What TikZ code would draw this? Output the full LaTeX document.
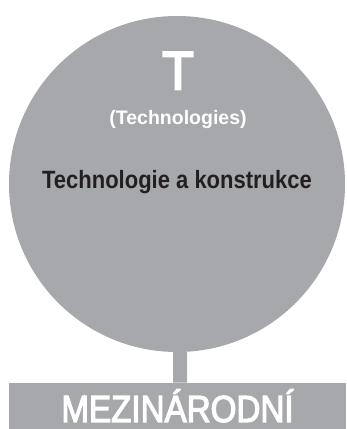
\documentclass[tikz,border=0pt]{standalone}
\usepackage{fontspec}
\setmainfont{Liberation Sans}
\newfontfamily\condfont[FakeStretch=0.88]{Liberation Sans}
\newfontfamily\medfont[FakeStretch=0.88,FakeBold=3]{Liberation Sans}
\newfontfamily\bigfont[FakeStretch=0.95,FakeBold=4]{Liberation Sans}
\definecolor{disc}{HTML}{A7A8AB}
\definecolor{ink}{HTML}{231F20}
\tikzset{
  shapefill/.style={fill=disc, draw=none, inner sep=0pt},
  lbl/.style={anchor=base, inner sep=0pt},
}
\begin{document}
\begin{tikzpicture}[x=1pt,y=1pt]
\useasboundingbox (0,0) rectangle (346,429);
\node[shapefill, circle, minimum size=336pt] (c) at (177,245) {};
\node[shapefill, rectangle, minimum width=337pt, minimum height=46pt, anchor=south west] (bar) at (9,0) {};
\draw[disc, line width=14pt] ([xshift=3pt]c.south) -- ([xshift=2.5pt]bar.north);
\node[lbl, text=white, font=\bigfont\fontsize{54}{54}\selectfont] (t) at (178,339.7) {T};
\node[lbl, text=white, font=\bfseries\fontsize{19.5}{20}\selectfont] (tech) at (178,304.7) {(Technologies)};
\node[lbl, text=ink, font=\condfont\bfseries\fontsize{25}{25}\selectfont] (sub) at (177,240) {Technologie a konstrukce};
\node[lbl, text=white, font=\medfont\fontsize{37.7}{38}\selectfont] (mez) at (177.5,7) {MEZINÁRODNÍ};
\end{tikzpicture}
\end{document}
